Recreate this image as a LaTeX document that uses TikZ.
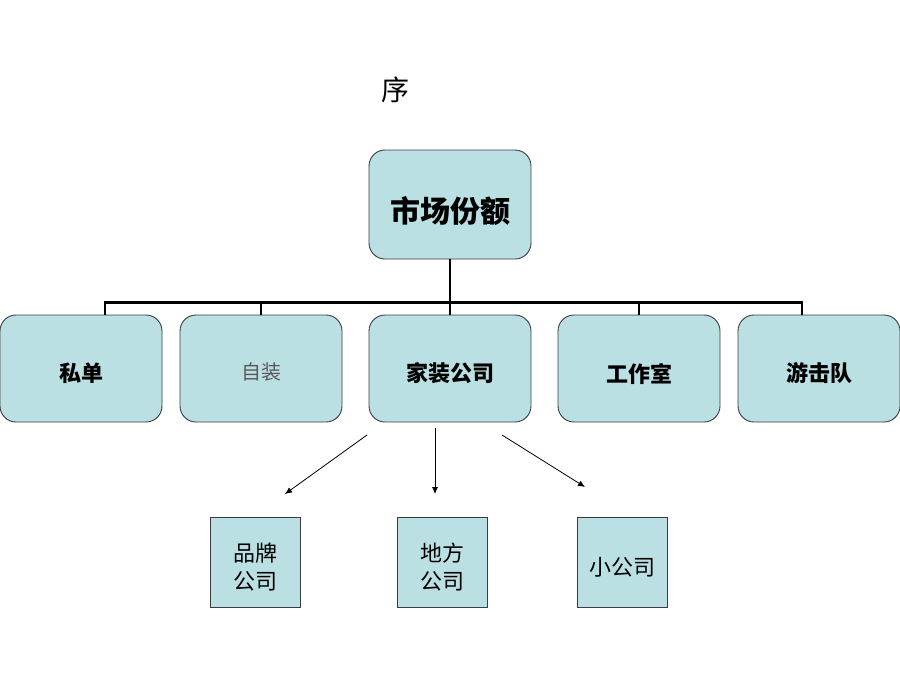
\documentclass[tikz,border=0pt]{standalone}
\usepackage{fontspec}
\newfontfamily\cjk{Noto Sans CJK SC}
\usetikzlibrary{arrows.meta}
\definecolor{boxfill}{RGB}{187,224,227}
\definecolor{boxline}{RGB}{60,60,60}
\begin{document}
\begin{tikzpicture}[x=1pt,y=-1pt,
  rbox/.style={draw=boxline,line width=0.9pt,fill=boxfill,rounded corners=16pt,minimum width=162pt,minimum height=107pt,inner sep=0pt},
  sbox/.style={draw=boxline,line width=0.9pt,fill=boxfill,minimum width=90pt,minimum height=90pt,inner sep=0pt},
  boldlab/.style={font=\cjk\fontsize{22}{26}\selectfont\bfseries,yshift=-5pt},
  reglab/.style={font=\cjk\fontsize{22}{28}\selectfont,align=center,yshift=-5pt},
  tree/.style={line width=2.8pt},
  arr/.style={line width=0.8pt,-{Latex[length=7pt,width=6pt]}}]
\useasboundingbox (0,0) rectangle (900,675);
\fill[white] (0,0) rectangle (900,675);
\node[font=\cjk\fontsize{28}{32}\selectfont] (xu) at (395,90) {序};
\node[rbox,minimum height=109pt,label={[font=\cjk\fontsize{30}{34}\selectfont\bfseries,yshift=-6pt]center:市场份额}] (top) at (450,204.5) {};
\node[rbox,label={[boldlab]center:私单}] (sd) at (81,368.5) {};
\node[rbox,label={[reglab,text=black!65,font=\cjk\fontsize{20}{24}\selectfont,yshift=2pt]center:自装}] (zz) at (261,368.5) {};
\node[rbox,label={[boldlab]center:家装公司}] (jz) at (450,368.5) {};
\node[rbox,label={[boldlab]center:工作室}] (gz) at (639,368.5) {};
\node[rbox,label={[boldlab]center:游击队}] (yj) at (819,368.5) {};
\draw[tree] (top.south) -- ++(0,43) coordinate (j);
\draw[tree] (j) -| ([xshift=24pt]sd.north);
\draw[tree] (j) -| (zz.north);
\draw[tree] (j) -- (jz.north);
\draw[tree] (j) -| (gz.north);
\draw[tree] (j) -| ([xshift=-17pt]yj.north);
\node[sbox,label={[reglab]center:品牌\\公司}] (pp) at (255,562) {};
\node[sbox,label={[reglab]center:地方\\公司}] (df) at (442,562) {};
\node[sbox,label={[reglab]center:小公司}] (xg) at (622,562) {};
\coordinate (a1s) at (367,435);
\coordinate (a1e) at (285,494);
\coordinate (a2s) at (435,428);
\coordinate (a2e) at (435,494);
\coordinate (a3s) at (502,435);
\coordinate (a3e) at (585,487);
\draw[arr] (a1s) -- (a1e);
\draw[arr] (a2s) -- (a2e);
\draw[arr] (a3s) -- (a3e);
\end{tikzpicture}
\end{document}
